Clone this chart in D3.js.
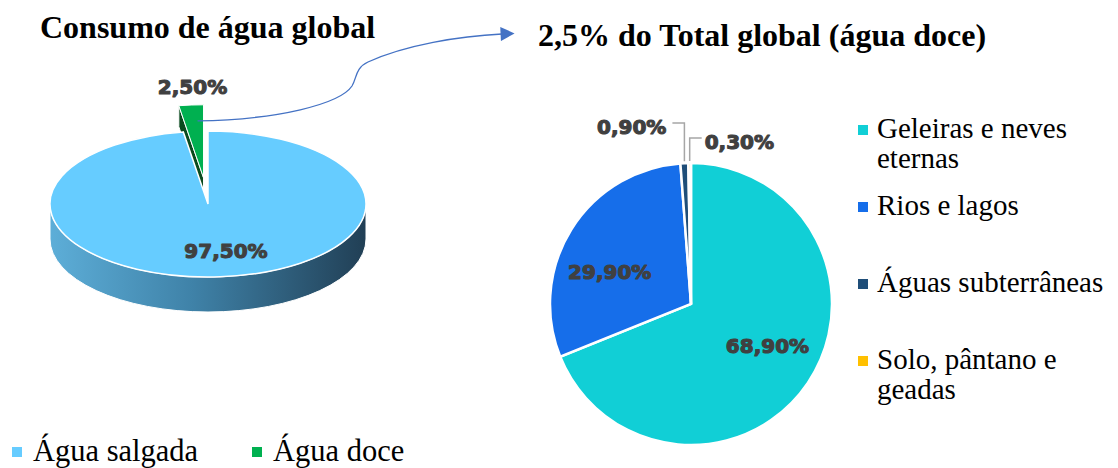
<!DOCTYPE html>
<html>
<head>
<meta charset="utf-8">
<script src="https://cdn.jsdelivr.net/npm/d3@7"></script>
<style>
  html, body { margin: 0; padding: 0; background: #ffffff; }
  svg { display: block; }
  .title { font-family: "Liberation Serif", "Times New Roman", serif; font-weight: bold; font-size: 32px; fill: #000; }
  .legend { font-family: "Liberation Serif", "Times New Roman", serif; fill: #000; }
  .pct { font-family: "DejaVu Sans", sans-serif; font-weight: bold; font-size: 20px; fill: #404040; stroke: #404040; stroke-width: 1.1px; stroke-linejoin: round; }
</style>
</head>
<body>
<svg id="chart" width="1118" height="468"></svg>
<script>
// Global water: salt vs fresh
const globalCategories = ["Água salgada", "Água doce"];
const globalValues = [97.5, 2.5];
const globalLabels = ["97,50%", "2,50%"];
const globalColors = ["#66CCFF", "#00B050"];

// Fresh water breakdown (2.5% of the global total)
const freshCategories = ["Geleiras e neves eternas", "Rios e lagos", "Águas subterrâneas", "Solo, pântano e geadas"];
const freshValues = [68.9, 29.9, 0.9, 0.3];
const freshLabels = ["68,90%", "29,90%", "0,90%", "0,30%"];
const freshColors = ["#11CFD6", "#166EEA", "#1F4E79", "#FFC000"];

const titles = ["Consumo de água global", "2,5% do Total global (água doce)"];

const svg = d3.select("#chart");
const defs = svg.append("defs");

// ---------- Titles ----------
svg.append("text").attr("class", "title").attr("x", 40).attr("y", 38).text(titles[0]);
const rightTitle = svg.append("text").attr("class", "title").attr("x", 538).attr("y", 46).text(titles[1]);

// ---------- Left: 3D pie ----------
const P = { cx: 208, cy: 204, rx: 158, ry: 73, depth: 35, explode: 0.36 };
const pie = d3.pie().sort(null).value(d => d);
const gArcs = pie(globalValues);

const pt = (a, ox = 0, oy = 0) => [P.cx + ox + P.rx * Math.sin(a), P.cy + oy - P.ry * Math.cos(a)];
const topFace = (d, ox, oy) => {
  const c = [P.cx + ox, P.cy + oy];
  const p0 = pt(d.startAngle, ox, oy), p1 = pt(d.endAngle, ox, oy);
  const large = (d.endAngle - d.startAngle) > Math.PI ? 1 : 0;
  return `M${c}L${p0}A${P.rx},${P.ry} 0 ${large} 1 ${p1}Z`;
};
const offsetOf = (i) => {
  if (i === 0) return [0, 0];
  const d = gArcs[i], mid = (d.startAngle + d.endAngle) / 2;
  return [P.rx * P.explode * Math.sin(mid), -P.ry * P.explode * Math.cos(mid)];
};

const grad = defs.append("linearGradient").attr("id", "sideGrad")
  .attr("x1", "0%").attr("x2", "100%").attr("y1", "0%").attr("y2", "0%");
grad.append("stop").attr("offset", "0%").attr("stop-color", "#5DAED8");
grad.append("stop").attr("offset", "45%").attr("stop-color", "#3F82A8");
grad.append("stop").attr("offset", "100%").attr("stop-color", "#213F55");

const gLeft = svg.append("g");

// fresh-water slice (exploded) with its visible cut face
{
  const d = gArcs[1];
  const [ox, oy] = offsetOf(1);
  const apex = [P.cx + ox, P.cy + oy];
  const p0 = pt(d.startAngle, ox, oy);
  gLeft.append("path")
    .attr("d", `M${apex}L${p0}L${[p0[0], p0[1] + P.depth * 0.6]}L${[apex[0], apex[1] + P.depth * 0.6]}Z`)
    .attr("fill", "#0A4A1E").attr("stroke", "#ffffff").attr("stroke-width", 1);
  gLeft.append("path").attr("d", topFace(d, ox, oy))
    .attr("fill", globalColors[1]).attr("stroke", "#ffffff").attr("stroke-width", 1);
}

// salt-water slice: front wall then top face
{
  const d = gArcs[0];
  const a0 = Math.max(d.startAngle, Math.PI / 2), a1 = Math.min(d.endAngle, 3 * Math.PI / 2);
  const s0 = pt(a0), s1 = pt(a1);
  gLeft.append("path")
    .attr("d", `M${s0}A${P.rx},${P.ry} 0 0 1 ${s1}L${[s1[0], s1[1] + P.depth]}A${P.rx},${P.ry} 0 0 0 ${[s0[0], s0[1] + P.depth]}Z`)
    .attr("fill", "url(#sideGrad)").attr("stroke", "#ffffff").attr("stroke-width", 1);
  gLeft.append("path").attr("d", topFace(d, 0, 0))
    .attr("fill", globalColors[0]).attr("stroke", "#ffffff").attr("stroke-width", 1.5);
}

// left labels
gLeft.append("text").attr("class", "pct").attr("text-anchor", "middle")
  .attr("x", P.cx + 18).attr("y", P.cy + 54).text(globalLabels[0]);
{
  const [ox, oy] = offsetOf(1);
  gLeft.append("text").attr("class", "pct").attr("text-anchor", "middle")
    .attr("x", P.cx + ox - 11).attr("y", P.cy + oy - P.ry - 11).text(globalLabels[1]);
}

// connector arrow from the fresh-water slice to the second chart
{
  const [ox, oy] = offsetOf(1);
  const sx = P.cx + ox - 6, sy = P.cy + oy - P.ry + 16;
  const ex = +rightTitle.attr("x") - 36, ey = 34;
  defs.append("marker").attr("id", "arrowHead").attr("viewBox", "0 0 10 10")
    .attr("refX", 1).attr("refY", 5)
    .attr("markerUnits", "userSpaceOnUse").attr("orient", "auto")
    .attr("markerWidth", 16).attr("markerHeight", 14)
    .append("path").attr("d", "M0,0L10,5L0,10Z").attr("fill", "#4472C4");
  const path = d3.path();
  path.moveTo(sx, sy);
  path.bezierCurveTo(sx + 80, sy - 1, 340, 104, 352, 86);
  path.bezierCurveTo(357, 78, 355, 68, 368, 62);
  path.bezierCurveTo(405, 45, 460, ey + 2, ex, ey);
  svg.append("path").attr("d", path.toString()).attr("fill", "none")
    .attr("stroke", "#4472C4").attr("stroke-width", 1.3).attr("marker-end", "url(#arrowHead)");
}

// bottom legend
{
  const lg = svg.append("g").attr("class", "legend").style("font-size", "30.5px");
  const xs = [12, 252];
  globalCategories.forEach((c, i) => {
    lg.append("rect").attr("x", xs[i]).attr("y", 447).attr("width", 10).attr("height", 10).attr("fill", globalColors[i]);
    lg.append("text").attr("x", xs[i] + 21).attr("y", 461).text(c);
  });
}

// ---------- Right: flat pie ----------
const R = 141, rc = [691, 304];
const fArcs = pie(freshValues);
const arc = d3.arc().innerRadius(0).outerRadius(R);
const gRight = svg.append("g").attr("transform", `translate(${rc})`);
gRight.selectAll("path").data(fArcs).join("path")
  .attr("d", arc).attr("fill", (d, i) => freshColors[i])
  .attr("stroke", "#ffffff").attr("stroke-width", 2.5).attr("stroke-linejoin", "miter");

// inside labels, nudged from the centroid the way the layout places them
const labelArc = d3.arc().innerRadius(R * 0.62).outerRadius(R * 0.62);
const insideNudge = [[4, -7], [-7, 14]];
fArcs.slice(0, 2).forEach((d, i) => {
  const [x, y] = labelArc.centroid(d);
  gRight.append("text").attr("class", "pct").attr("text-anchor", "middle")
    .attr("x", x + insideNudge[i][0]).attr("y", y + 7 + insideNudge[i][1]).text(freshLabels[i]);
});

// tiny slices get leader lines
const edgeArc = d3.arc().innerRadius(R - 1).outerRadius(R - 1);
const smallLabels = [
  { i: 2, lineY: -181, textDx: -12, anchor: "end", textY: -177 },
  { i: 3, lineY: -166, textDx: 12, anchor: "start", textY: -162 }
];
smallLabels.forEach(s => {
  const [x, y] = edgeArc.centroid(fArcs[s.i]);
  const xe = x + s.textDx;
  gRight.append("path").attr("d", `M${x},${y - 3}L${x},${s.lineY}L${xe},${s.lineY}`)
    .attr("fill", "none").attr("stroke", "#A6A6A6").attr("stroke-width", 1.5);
  gRight.append("text").attr("class", "pct").attr("text-anchor", s.anchor)
    .attr("x", xe + (s.anchor === "end" ? -6 : 3)).attr("y", s.textY + 7).text(freshLabels[s.i]);
});

// right legend with wrapped entries
{
  const lg = svg.append("g").attr("class", "legend").style("font-size", "29px");
  const maxW = 232;
  freshCategories.forEach((c, i) => {
    const y0 = 138 + i * 77;
    lg.append("rect").attr("x", 858).attr("y", y0 - 13).attr("width", 10).attr("height", 10).attr("fill", freshColors[i]);
    const words = c.split(" ");
    const t = lg.append("text").attr("x", 877).attr("y", y0);
    let line = [], ts = t.append("tspan").attr("x", 877).attr("y", y0), row = 0;
    words.forEach(w => {
      line.push(w);
      ts.text(line.join(" "));
      if (ts.node().getComputedTextLength() > maxW && line.length > 1) {
        line.pop();
        ts.text(line.join(" "));
        line = [w];
        row++;
        ts = t.append("tspan").attr("x", 877).attr("y", y0 + row * 30).text(w);
      }
    });
  });
}
</script>
</body>
</html>
